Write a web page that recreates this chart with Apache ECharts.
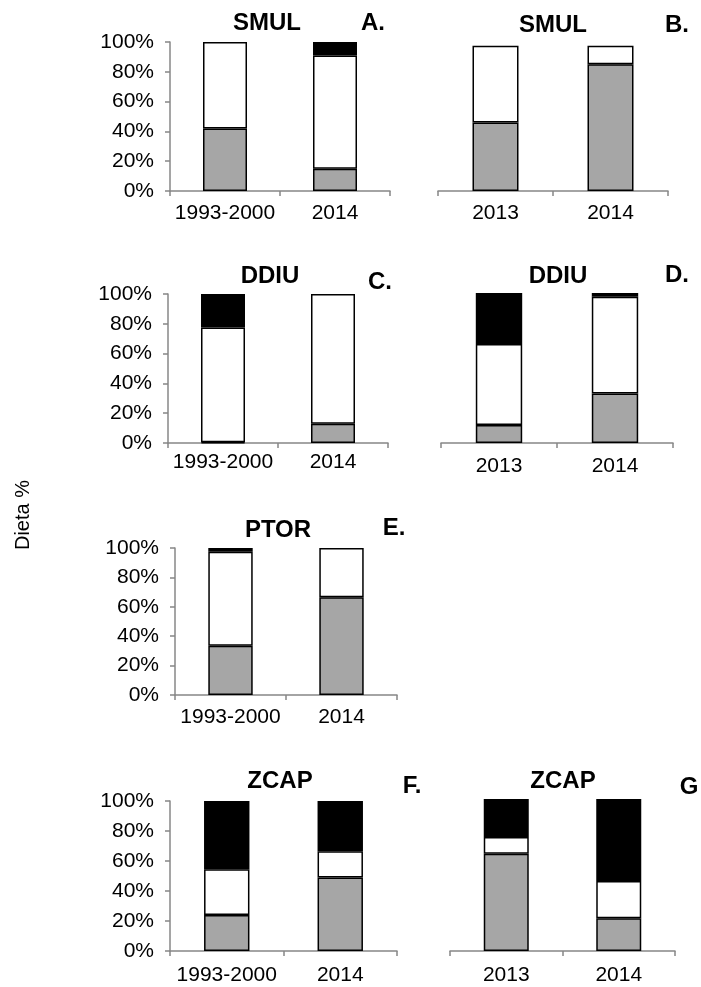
<!DOCTYPE html>
<html>
<head>
<meta charset="utf-8">
<script src="https://cdn.jsdelivr.net/npm/echarts@6/dist/echarts.min.js"></script>
<style>
html,body{margin:0;padding:0;background:#fff;}
#c{width:701px;height:987px;}
</style>
</head>
<body>
<div id="c"></div>
<script>
// ---- data ----
const catsHist = ['1993-2000', '2014'];
const catsRecent = ['2013', '2014'];
const species = ['SMUL', 'SMUL', 'DDIU', 'DDIU', 'PTOR', 'ZCAP', 'ZCAP'];
const letters = ['A.', 'B.', 'C.', 'D.', 'E.', 'F.', 'G'];
const grayA = [42, 15],    whiteA = [58, 76],     blackA = [null, 9];
const grayB = [46, 85],    whiteB = [51.5, 12.5], blackB = [null, null];
const grayC = [0.5, 13],   whiteC = [77, 87],     blackC = [22.5, null];
const grayD = [12, 33],    whiteD = [54, 64.5],   blackD = [34, 2.5];
const grayE = [33.5, 66.5],whiteE = [64, 33.5],   blackE = [2.5, null];
const grayF = [24, 49],    whiteF = [30.5, 17.5], blackF = [45.5, 33.5];
const grayG = [64, 21.5],  whiteG = [11, 24.5],   blackG = [25, 54];
const yAxisTitle = 'Dieta %';

// ---- layout ----
const panelCats = [catsHist, catsRecent, catsHist, catsRecent, catsHist, catsHist, catsRecent];
const panelData = [
  [grayA, whiteA, blackA], [grayB, whiteB, blackB], [grayC, whiteC, blackC],
  [grayD, whiteD, blackD], [grayE, whiteE, blackE], [grayF, whiteF, blackF],
  [grayG, whiteG, blackG]
];
const grids = [
  {left: 170, top: 42, width: 220, height: 149},
  {left: 438, top: 42, width: 230, height: 149},
  {left: 168, top: 294, width: 220, height: 149},
  {left: 441, top: 293, width: 232, height: 150},
  {left: 175, top: 548, width: 222, height: 147},
  {left: 170, top: 801, width: 227, height: 150},
  {left: 450, top: 799, width: 225, height: 152}
];
const showY = [true, false, true, false, true, true, false];
const xMargins = [12, 12, 9, 13, 12, 14, 14];
const titlePos = [[267, 23], [553, 25], [270, 276], [558, 276], [278, 530], [280, 781], [563, 781]];
const letterPos = [[373, 23], [677, 25], [380, 282], [677, 275], [394, 528], [412, 786], [689, 787]];
const fills = ['#a6a6a6', '#ffffff', '#000000'];
const FONT = 'Liberation Sans, Arial, sans-serif';

const xAxes = [], yAxes = [], series = [], graphics = [];
grids.forEach((g, i) => {
  xAxes.push({
    type: 'category', gridIndex: i, data: panelCats[i],
    axisLine: {show: true, lineStyle: {color: '#878787', width: 1.5}},
    axisTick: {show: true, length: 5, lineStyle: {color: '#878787', width: 1.5}},
    axisLabel: {color: '#000', fontSize: 21, fontFamily: FONT, margin: xMargins[i], interval: 0, hideOverlap: false},
    splitLine: {show: false}
  });
  yAxes.push({
    type: 'value', gridIndex: i, min: 0, max: 100, interval: 20,
    show: showY[i],
    axisLine: {show: true, lineStyle: {color: '#878787', width: 1.5}},
    axisTick: {show: true, length: 5, lineStyle: {color: '#878787', width: 1.5}},
    axisLabel: {color: '#000', fontSize: 21, fontFamily: FONT, margin: 16, formatter: '{value}%'},
    splitLine: {show: false}
  });
  panelData[i].forEach((arr, k) => {
    series.push({
      type: 'bar', xAxisIndex: i, yAxisIndex: i, stack: 'p' + i,
      data: arr, barWidth: '40%',
      itemStyle: {color: fills[k], borderColor: '#000', borderWidth: 1.5},
      silent: true, animation: false
    });
  });
  graphics.push({
    type: 'text', x: titlePos[i][0], y: titlePos[i][1],
    style: {text: species[i], fontSize: 24, fontWeight: 'bold', fontFamily: FONT,
            fill: '#000', align: 'center', verticalAlign: 'middle'}
  });
  graphics.push({
    type: 'text', x: letterPos[i][0], y: letterPos[i][1],
    style: {text: letters[i], fontSize: 24, fontWeight: 'bold', fontFamily: FONT,
            fill: '#000', align: 'center', verticalAlign: 'middle'}
  });
});
graphics.push({
  type: 'text', x: 23, y: 515, rotation: Math.PI / 2,
  style: {text: yAxisTitle, fontSize: 20, fontFamily: FONT, fill: '#000',
          align: 'center', verticalAlign: 'middle'}
});

const chart = echarts.init(document.getElementById('c'), null, {renderer: 'canvas'});
chart.setOption({
  backgroundColor: '#fff',
  animation: false,
  grid: grids.map(g => Object.assign({containLabel: false}, g)),
  xAxis: xAxes,
  yAxis: yAxes,
  series: series,
  graphic: graphics
});
</script>
</body>
</html>
